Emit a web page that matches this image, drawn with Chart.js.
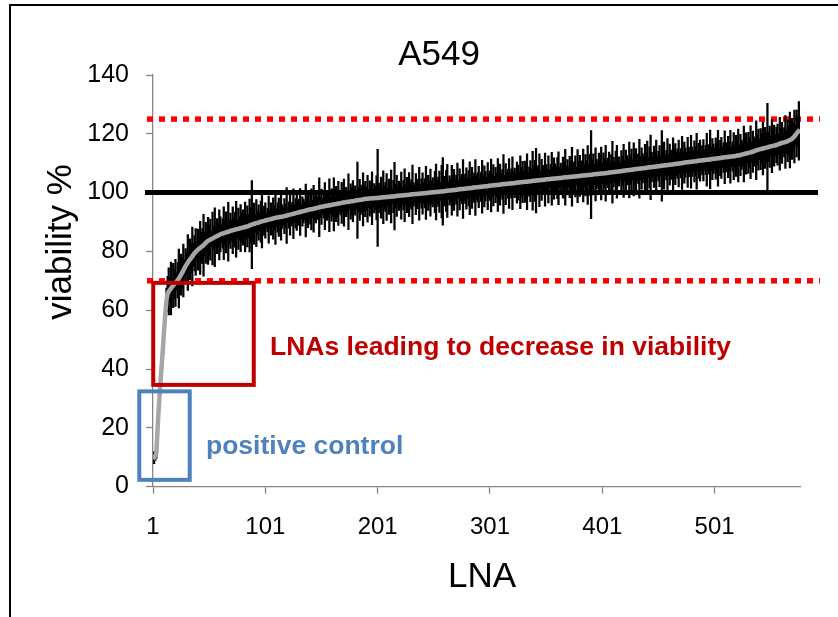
<!DOCTYPE html>
<html>
<head>
<meta charset="utf-8">
<title>A549</title>
<script src="https://cdn.jsdelivr.net/npm/chart.js@4.4.1/dist/chart.umd.min.js"></script>
<style>
    html, body { margin: 0; padding: 0; background: #fff; overflow: hidden; }
    #wrap { position: relative; width: 838px; height: 617px; overflow: hidden; }
    #frame { position: absolute; left: 9px; top: 4px; width: 900px; height: 700px; border-left: 2.5px solid #000; border-top: 2.5px solid #000; }
    canvas { position: absolute; left: 0; top: 0; }
</style>
</head>
<body>
<div id="wrap">
    <div id="frame"></div>
    <canvas id="chart" width="838" height="617"></canvas>
</div>
<script>
// LNA ids 1..577 (sorted by viability)
const lnaIds = Array.from({ length: 577 }, (_, i) => i + 1);

// mean viability % per LNA
const viability = [
    9.5, 9.8, 10.4, 11.6, 19.0, 26.0, 32.0, 37.5, 42.5, 48.0,
    54.0, 59.0, 63.5, 65.5, 66.4, 66.9, 67.4, 67.9, 68.4, 68.9,
    69.3, 69.7, 70.2, 70.8, 71.4, 72.1, 72.8, 73.5, 74.2, 75.0,
    75.6, 76.2, 76.8, 77.3, 77.8, 78.3, 78.9, 79.4, 79.8, 80.2,
    80.6, 80.9, 81.2, 81.5, 81.8, 82.1, 82.5, 82.9, 83.3, 83.6,
    83.8, 84.0, 84.2, 84.4, 84.6, 84.8, 85.0, 85.2, 85.4, 85.6,
    85.8, 86.0, 86.1, 86.2, 86.3, 86.5, 86.6, 86.7, 86.8, 87.0,
    87.1, 87.2, 87.3, 87.4, 87.5, 87.6, 87.7, 87.8, 87.9, 88.0,
    88.1, 88.2, 88.3, 88.4, 88.5, 88.6, 88.8, 89.0, 89.1, 89.3,
    89.4, 89.5, 89.6, 89.7, 89.8, 90.0, 90.1, 90.2, 90.3, 90.4,
    90.5, 90.6, 90.7, 90.8, 90.9, 91.0, 91.1, 91.2, 91.3, 91.4,
    91.5, 91.5, 91.6, 91.7, 91.8, 91.8, 91.9, 92.0, 92.1, 92.2,
    92.3, 92.4, 92.5, 92.6, 92.7, 92.8, 92.9, 93.0, 93.1, 93.2,
    93.3, 93.4, 93.5, 93.6, 93.7, 93.8, 93.9, 94.0, 94.1, 94.2,
    94.3, 94.3, 94.4, 94.5, 94.6, 94.7, 94.8, 94.9, 95.0, 95.1,
    95.2, 95.3, 95.3, 95.4, 95.5, 95.5, 95.6, 95.7, 95.7, 95.8,
    95.9, 96.0, 96.0, 96.1, 96.2, 96.3, 96.3, 96.4, 96.5, 96.6,
    96.6, 96.7, 96.8, 96.8, 96.9, 96.9, 97.0, 97.1, 97.1, 97.2,
    97.3, 97.3, 97.4, 97.5, 97.5, 97.6, 97.6, 97.7, 97.8, 97.8,
    97.9, 97.9, 98.0, 98.0, 98.0, 98.1, 98.1, 98.1, 98.2, 98.2,
    98.2, 98.2, 98.3, 98.3, 98.3, 98.4, 98.4, 98.5, 98.5, 98.5,
    98.6, 98.6, 98.7, 98.7, 98.7, 98.8, 98.8, 98.9, 98.9, 98.9,
    99.0, 99.0, 99.0, 99.1, 99.1, 99.2, 99.2, 99.2, 99.3, 99.3,
    99.4, 99.4, 99.4, 99.5, 99.5, 99.5, 99.6, 99.6, 99.7, 99.7,
    99.7, 99.8, 99.8, 99.9, 99.9, 99.9, 100.0, 100.0, 100.0, 100.1,
    100.1, 100.2, 100.2, 100.2, 100.3, 100.3, 100.4, 100.4, 100.4, 100.5,
    100.5, 100.6, 100.6, 100.7, 100.7, 100.7, 100.8, 100.8, 100.9, 100.9,
    101.0, 101.0, 101.1, 101.1, 101.2, 101.2, 101.2, 101.3, 101.3, 101.4,
    101.4, 101.5, 101.5, 101.6, 101.6, 101.7, 101.7, 101.7, 101.8, 101.8,
    101.9, 101.9, 102.0, 102.0, 102.1, 102.1, 102.2, 102.2, 102.2, 102.3,
    102.3, 102.4, 102.4, 102.5, 102.5, 102.6, 102.6, 102.6, 102.7, 102.7,
    102.8, 102.8, 102.9, 102.9, 102.9, 103.0, 103.0, 103.1, 103.1, 103.1,
    103.2, 103.2, 103.3, 103.3, 103.4, 103.4, 103.4, 103.5, 103.5, 103.6,
    103.6, 103.7, 103.7, 103.7, 103.8, 103.8, 103.9, 103.9, 104.0, 104.0,
    104.0, 104.1, 104.1, 104.2, 104.2, 104.3, 104.3, 104.3, 104.4, 104.4,
    104.5, 104.5, 104.5, 104.6, 104.6, 104.7, 104.7, 104.8, 104.8, 104.8,
    104.9, 104.9, 105.0, 105.0, 105.0, 105.1, 105.1, 105.2, 105.2, 105.2,
    105.3, 105.3, 105.4, 105.4, 105.4, 105.5, 105.5, 105.6, 105.6, 105.6,
    105.7, 105.7, 105.8, 105.8, 105.8, 105.9, 105.9, 106.0, 106.0, 106.0,
    106.1, 106.1, 106.2, 106.2, 106.2, 106.3, 106.3, 106.4, 106.4, 106.5,
    106.5, 106.5, 106.6, 106.6, 106.7, 106.7, 106.8, 106.8, 106.9, 106.9,
    107.0, 107.0, 107.1, 107.1, 107.2, 107.2, 107.3, 107.3, 107.4, 107.4,
    107.5, 107.5, 107.6, 107.6, 107.7, 107.7, 107.8, 107.8, 107.9, 107.9,
    108.0, 108.0, 108.1, 108.1, 108.2, 108.2, 108.3, 108.3, 108.4, 108.4,
    108.5, 108.5, 108.6, 108.6, 108.7, 108.7, 108.8, 108.8, 108.9, 108.9,
    109.0, 109.0, 109.1, 109.1, 109.2, 109.2, 109.3, 109.3, 109.4, 109.4,
    109.5, 109.5, 109.6, 109.6, 109.7, 109.7, 109.8, 109.8, 109.9, 109.9,
    110.0, 110.1, 110.1, 110.2, 110.2, 110.3, 110.3, 110.4, 110.4, 110.5,
    110.5, 110.6, 110.6, 110.7, 110.7, 110.8, 110.8, 110.9, 110.9, 111.0,
    111.0, 111.1, 111.1, 111.2, 111.2, 111.3, 111.3, 111.4, 111.4, 111.5,
    111.5, 111.6, 111.6, 111.7, 111.7, 111.8, 111.8, 111.9, 111.9, 112.0,
    112.0, 112.1, 112.1, 112.2, 112.2, 112.3, 112.3, 112.4, 112.4, 112.5,
    112.6, 112.6, 112.7, 112.8, 112.9, 113.0, 113.1, 113.2, 113.3, 113.4,
    113.5, 113.6, 113.7, 113.8, 113.9, 114.0, 114.2, 114.4, 114.5, 114.6,
    114.7, 114.8, 114.9, 115.0, 115.1, 115.2, 115.3, 115.4, 115.5, 115.6,
    115.7, 115.8, 115.9, 116.0, 116.1, 116.2, 116.3, 116.5, 116.6, 116.8,
    116.9, 117.0, 117.1, 117.2, 117.3, 117.5, 117.7, 117.9, 118.1, 118.3,
    118.7, 119.1, 119.6, 120.1, 120.6, 121.0, 121.3
];

// +/- error per LNA (black bars)
const errorHalf = [
    1.5, 2, 1.5, 2, 3, 2.5, 2, 3, 2.5, 3,
    3, 3.5, 4, 6, 8, 4, 9, 3, 7.5, 5,
    8, 3, 6, 10, 4, 7, 5, 9, 3, 6,
    4, 9.5, 3, 7, 5, 10, 4, 6, 8, 3,
    7, 3, 9, 5, 6, 10.5, 4, 7, 3, 8,
    5, 7, 2.5, 9, 4, 10, 3.5, 6, 4, 8.5,
    6, 3, 5, 9, 4, 7, 3, 10, 4, 6,
    3.5, 8, 4, 6, 9.5, 3, 7, 4, 8, 5,
    6, 3, 8.5, 4, 7, 4, 9, 6, 15, 4,
    7, 3, 8, 4, 6, 3, 7, 9, 3.5, 5,
    6, 2.5, 4, 8, 3, 5.5, 3, 7, 4, 9,
    3, 5, 6.5, 2.5, 8, 4, 3, 6, 4, 9.5,
    2.5, 4.5, 7, 3, 4, 8.5, 3, 5, 6, 3.5,
    4.5, 8, 2.5, 5, 4, 3, 9, 4, 6, 2.5,
    5, 7, 3, 8, 4, 5, 3, 4, 10, 3.5,
    6, 2.5, 4, 8, 3, 5, 4, 9, 3, 5.5,
    4, 9, 2.5, 6, 4.5, 7.5, 3, 4, 7, 3.5,
    8, 3, 5, 4, 9.5, 2.5, 6, 4.5, 7, 3.5,
    5, 3, 13, 4, 7, 5, 3, 9, 4, 6,
    4, 8, 3, 6, 3.5, 9, 3, 5, 4, 7.5,
    16.5, 5, 3.5, 7, 3, 9, 4, 5, 8, 3,
    6, 4, 9, 2.5, 5.5, 11.5, 4, 7, 3, 5,
    4, 8, 3, 5, 9, 3.5, 6, 3, 7.5, 4,
    5, 10, 4, 3, 7, 5, 3.5, 9, 3, 5,
    7, 3.5, 5, 9, 3, 6, 4, 8, 4, 5,
    3, 7, 9.5, 4, 5, 7, 3, 9, 11.5, 5,
    4, 7, 9, 3, 5, 4, 8.5, 5, 7, 3.5,
    5, 9, 3, 7, 4, 5, 10, 4, 5, 7,
    3.5, 6, 9, 3, 7, 4, 5, 9.5, 4, 5,
    7, 3, 5, 9, 3.5, 7, 5, 3, 8, 4,
    5, 9, 4, 7, 3, 6, 4, 9, 5, 7,
    3.5, 5, 10, 3, 7, 4, 5, 8.5, 3.5, 5,
    9, 4, 5, 3, 7, 6, 3.5, 9, 5, 7,
    4, 7, 5, 9.5, 3, 5, 7, 4, 10, 5,
    7, 11, 4, 5, 9, 3, 7, 5, 4, 9,
    5, 3.5, 8, 3, 5, 9, 4, 7, 5, 4,
    7, 9, 3.5, 5, 3, 7, 5, 9.5, 4, 6,
    3.5, 7, 5, 10, 4, 5, 7, 3, 9, 5,
    7, 4, 5, 9, 4, 7, 5, 10, 3.5, 7,
    15, 5, 7, 3.5, 9, 5, 4, 7, 5, 9,
    3.5, 7, 5, 9.5, 4, 5, 7, 3.5, 6, 10.5,
    5, 3.5, 7, 9, 4, 5, 3, 7, 5, 9,
    3.5, 7, 5, 4, 9.5, 5, 7, 3.5, 9, 5,
    7, 3.5, 5, 10, 4, 7, 5, 3.5, 8, 5,
    9, 3.5, 7, 11, 5, 3.5, 7, 5, 9, 3.5,
    5, 7, 3.5, 12, 5, 8, 3.5, 5, 9, 3.5,
    7, 5, 3.5, 9, 5, 7, 4, 5, 8, 3.5,
    5, 9, 3.5, 7, 5, 3.5, 8.5, 5, 3.5, 9,
    5, 3.5, 7, 5, 9.5, 3.5, 6, 7, 3.5, 5,
    7, 3.5, 5, 9, 3.5, 5, 10, 4, 7, 5,
    3.5, 7, 5, 9.5, 3.5, 6, 7, 3.5, 5, 9,
    5, 3.5, 7, 5, 9, 3.5, 5, 8, 3.5, 7,
    5, 9, 3.5, 7, 5, 4, 9.5, 5, 7, 3.5,
    7, 5, 9, 3.5, 7, 5, 3.5, 10, 5, 7,
    3.5, 7, 5, 9, 4, 7, 5, 15, 5, 7,
    3.5, 9, 5, 7, 3.5, 6, 7, 3.5, 9, 5,
    7, 3.5, 5, 9, 4, 7, 5, 9.5, 3.5, 7,
    5, 9, 3.5, 8, 5, 10, 9.5
];

const yTicks = [0, 20, 40, 60, 80, 100, 120, 140];
const xTickLabels = [1, 101, 201, 301, 401, 501];
const cutoffs = [125, 70];      // red dotted
const reference = 100;          // black line

const FONT = "'Liberation Sans', Arial, sans-serif";
Chart.defaults.font.family = FONT;

const overlayPlugin = {
    id: 'overlay',
    beforeDatasetsDraw(chart) {
        const { ctx, chartArea, scales: { y } } = chart;
        ctx.save();
        ctx.lineCap = 'butt';
        ctx.strokeStyle = '#ff0000';
        ctx.lineWidth = 5.5;
        ctx.setLineDash([6, 6]);
        cutoffs.forEach(v => {
            const py = y.getPixelForValue(v);
            ctx.beginPath();
            ctx.moveTo(chartArea.left - 6, py);
            ctx.lineTo(chartArea.right + 20, py);
            ctx.stroke();
        });
        ctx.setLineDash([]);
        ctx.strokeStyle = '#000';
        ctx.lineWidth = 5;
        const py = y.getPixelForValue(reference);
        ctx.beginPath();
        ctx.moveTo(chartArea.left - 8, py);
        ctx.lineTo(chartArea.right + 18, py);
        ctx.stroke();
        ctx.restore();
    },
    afterDatasetsDraw(chart) {
        const { ctx, scales: { x, y } } = chart;
        ctx.save();
        // annotation boxes (in data units)
        const boxes = [
            { x0: 1.2, x1: 90.7, y0: 34.6, y1: 69.3, color: '#c00000' },
            { x0: -11.2, x1: 33.7, y0: 2.3, y1: 32.4, color: '#4f81bd' }
        ];
        ctx.lineWidth = 4;
        boxes.forEach(b => {
            const l = x.getPixelForValue(b.x0), r = x.getPixelForValue(b.x1);
            const t = y.getPixelForValue(b.y1), btm = y.getPixelForValue(b.y0);
            ctx.strokeStyle = b.color;
            ctx.strokeRect(l, t, r - l, btm - t);
        });
        ctx.font = 'bold 26.5px ' + FONT;
        ctx.textBaseline = 'alphabetic';
        ctx.textAlign = 'left';
        ctx.fillStyle = '#c00000';
        ctx.fillText('LNAs leading to decrease in viability', 270, 355);
        ctx.fillStyle = '#4f81bd';
        ctx.fillText('positive control', 206, 454);
        ctx.restore();
    },
    afterDraw(chart) {
        const { ctx } = chart;
        ctx.save();
        ctx.fillStyle = '#000';
        ctx.textBaseline = 'alphabetic';
        ctx.textAlign = 'center';
        ctx.font = '35px ' + FONT;
        ctx.fillText('A549', 439, 65);
        ctx.fillText('LNA', 482, 587);
        ctx.translate(71, 242);
        ctx.rotate(-Math.PI / 2);
        ctx.fillText('viability %', 0, 0);
        ctx.restore();
    }
};

new Chart(document.getElementById('chart'), {
    type: 'line',
    data: {
        datasets: [
            {
                type: 'line',
                label: 'viability',
                data: lnaIds.map((id, i) => ({ x: id, y: viability[i] })),
                borderColor: '#a6a6a6',
                borderWidth: 4.5,
                pointRadius: 0,
                tension: 0,
                order: 0
            },
            {
                type: 'bar',
                label: 'error',
                data: lnaIds.map((id, i) => ({ x: id, y: [viability[i] - errorHalf[i], viability[i] + errorHalf[i]] })),
                backgroundColor: '#000',
                borderWidth: 0,
                barThickness: 1.6,
                order: 1
            }
        ]
    },
    options: {
        responsive: false,
        animation: false,
        layout: { padding: { top: 75, right: 38, bottom: 0, left: 0 } },
        plugins: {
            legend: { display: false },
            title: { display: false },
            tooltip: { enabled: false }
        },
        scales: {
            x: {
                type: 'linear',
                min: 1,
                max: 577,
                offset: false,
                afterBuildTicks: scale => { scale.ticks = xTickLabels.map(v => ({ value: v })); },
                afterFit: scale => { scale.height = 130.4; },
                grid: { offset: false, drawOnChartArea: false, drawTicks: true, tickLength: 7, tickColor: '#868686', tickWidth: 1.3 },
                border: { display: true, color: '#868686', width: 1.3 },
                ticks: { color: '#000', font: { size: 24 }, padding: 19, maxRotation: 0, autoSkip: false }
            },
            y: {
                min: 0,
                max: 140,
                afterBuildTicks: scale => { scale.ticks = yTicks.map(v => ({ value: v })); },
                afterFit: scale => { scale.width = 153; },
                grid: { drawOnChartArea: false, drawTicks: true, tickLength: 7, tickColor: '#868686', tickWidth: 1.3 },
                border: { display: true, color: '#868686', width: 1.3 },
                ticks: { color: '#000', font: { size: 25 }, padding: 17 }
            }
        }
    },
    plugins: [overlayPlugin]
});
</script>
</body>
</html>
